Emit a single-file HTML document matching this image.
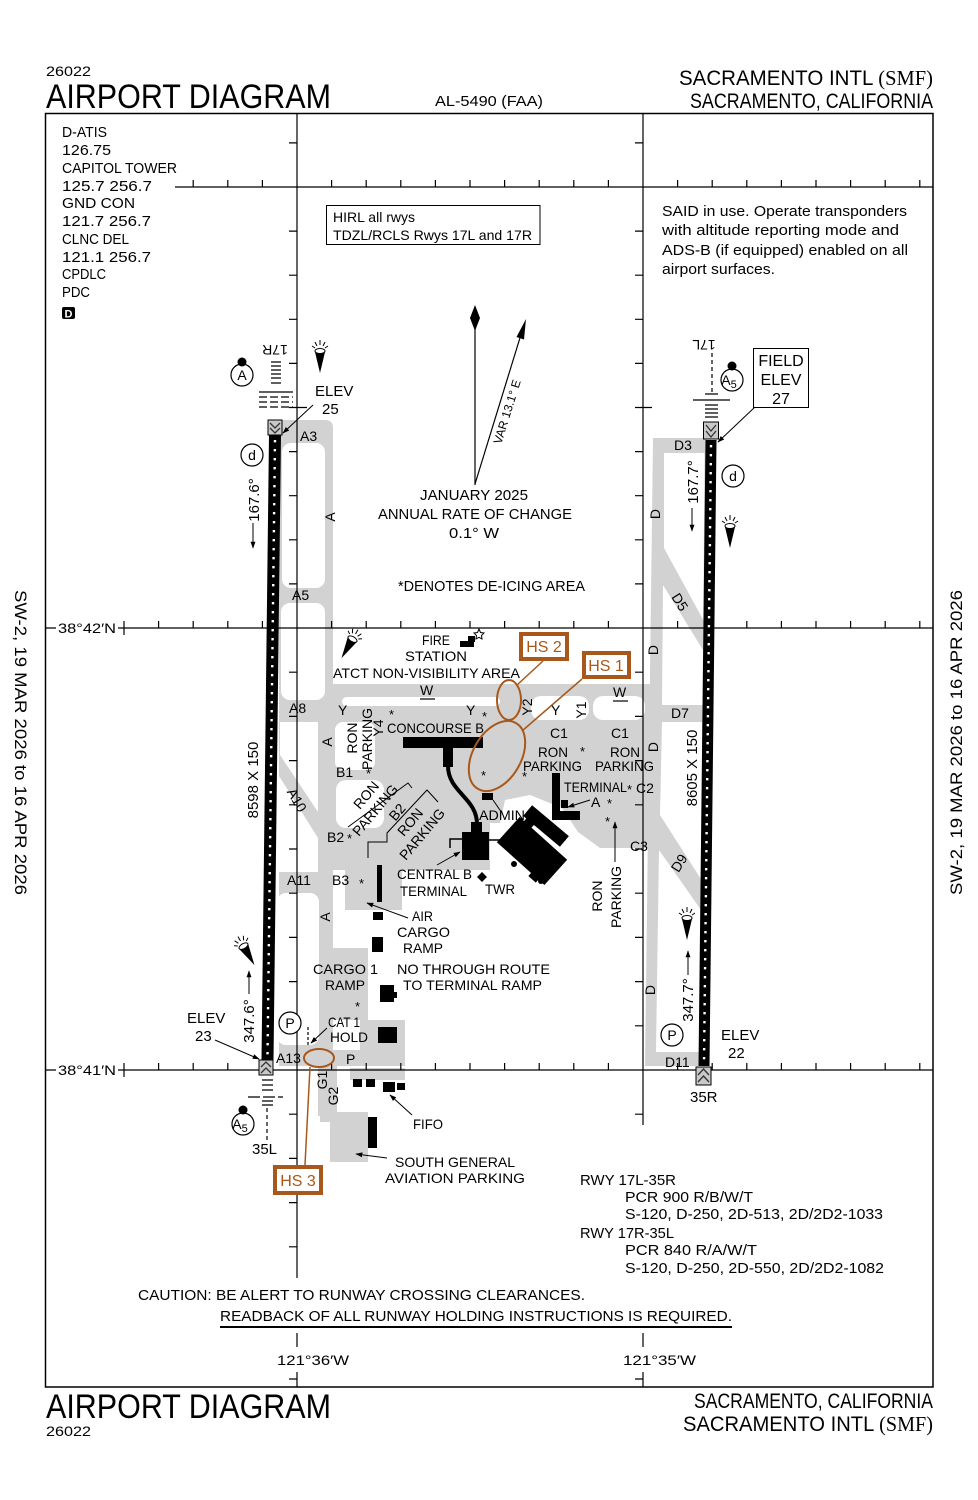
<!DOCTYPE html>
<html><head><meta charset="utf-8">
<style>
html,body{margin:0;padding:0;background:#fff;width:978px;height:1500px;overflow:hidden}
svg{display:block}
text{font-family:"Liberation Sans",Arial,sans-serif;fill:#000}
.s16{font-size:16px}.s15{font-size:15px}.s14{font-size:14px}.s13{font-size:13px}.s12{font-size:12px}
.o{fill:#a8581a}
</style></head><body>
<svg xmlns="http://www.w3.org/2000/svg" width="978" height="1500" viewBox="0 0 978 1500">
<defs>
<marker id="ah" viewBox="0 0 10 10" refX="9" refY="5" markerWidth="7" markerHeight="7" orient="auto" markerUnits="userSpaceOnUse"><path d="M0,1.5 L10,5 L0,8.5 Z" fill="#000"/></marker>
</defs>
<rect width="978" height="1500" fill="#fff"/>

<!-- ===== GRAY PAVEMENT ===== -->
<g fill="#d2d2d2">
<path d="M279,420 H325 Q333,420 333,428 V1066 H279 Z"/>
<rect x="325" y="684" width="381" height="38"/>
<path d="M333,717 H652 V848 H600 L578,832 L562,808 L530,795 L505,800 L500,823 L490,823 L490,870 L402,870 L402,910 L345,910 L345,870 L333,870 Z"/>
<path d="M653,438 H706 L699,1066 H645 Z"/>
<rect x="318" y="948" width="50" height="72"/>
<rect x="360" y="1020" width="45" height="46"/>
<rect x="300" y="1050" width="105" height="16"/>
<rect x="318" y="1066" width="19" height="50"/>
<path d="M320,1112 H368 V1162 H330 V1122 H320 Z"/>
<rect x="350" y="1068" width="55" height="12"/>
</g>
<g fill="#fff">
<rect x="282" y="443" width="43" height="145" rx="9"/>
<rect x="281" y="603" width="44" height="97" rx="9"/>
<path d="M280,722 H318 V812 L280,755 Z"/>
<path d="M279,776 L318,838 V872 H279 Z"/>
<rect x="277" y="893" width="42" height="152" rx="9"/>
<rect x="335" y="722" width="40" height="48" rx="8"/>
<rect x="336" y="780" width="48" height="48" rx="10"/>
<rect x="342" y="697" width="158" height="9" rx="4.5"/>
<rect x="531" y="696" width="58" height="24" rx="10"/>
<rect x="593" y="696" width="52" height="24" rx="10"/>
<polygon points="664,453 704.5,453 703.3,620 664,548"/>
<polygon points="663,585 703,650 702.5,705 662,705"/>
<polygon points="662,722 702.3,722 701.5,880 660,815"/>
<polygon points="659,850 701,910 699.3,1052 656,1052"/>
</g>

<!-- ===== FRAME & GRID ===== -->
<rect x="45.5" y="113.5" width="887.5" height="1273.5" fill="none" stroke="#000" stroke-width="1.5"/>
<g stroke="#000" stroke-width="1.2" fill="none">
<path d="M297,113 V1278 M297,1333 V1347 M297,1372 V1387 M643,113 V1125 M643,1333 V1347 M643,1372 V1387"/>
<path d="M175,187 H933 M46,628 H56 M118,628 H933 M46,1070 H56 M118,1070 H933"/>
<path d="M289,142.9H297M289,231.1H297M289,275.2H297M289,319.3H297M289,363.4H297M289,407.5H307M289,451.6H297M289,495.7H297M289,539.8H297M289,583.9H297M289,672.2H297M289,716.4H297M289,760.6H297M289,804.8H297M289,849H297M289,893.2H297M289,937.4H297M289,981.6H297M289,1025.8H297M289,1114.2H297M289,1158.4H297M289,1202.6H297M289,1246.8H297M289,1379H297"/>
<path d="M635,142.9H643M635,231.1H643M635,275.2H643M635,319.3H643M635,363.4H643M635,407.5H652M635,451.6H643M635,495.7H643M635,539.8H643M635,583.9H643M635,672.2H643M635,716.4H643M635,760.6H643M635,804.8H643M635,849H643M635,893.2H643M635,937.4H643M635,981.6H643M635,1025.8H643M635,1114.2H643M635,1379H643"/>
<path d="M193.2,187V180M227.8,187V180M262.4,187V180M331.6,187V180M366.2,187V180M400.8,187V180M435.4,187V180M470,187V180M504.6,187V180M539.2,187V180M573.8,187V180M608.4,187V180M677.6,187V180M712.2,187V180M746.8,187V180M781.4,187V180M816,187V180M850.6,187V180M885.2,187V180M919.8,187V180"/>
<path d="M124,621V635M158.6,628V621M193.2,628V621M227.8,628V621M262.4,628V621M331.6,628V621M366.2,628V621M400.8,628V621M435.4,628V621M470,628V621M504.6,628V621M539.2,628V621M573.8,628V621M608.4,628V621M677.6,628V621M712.2,628V621M746.8,628V621M781.4,628V621M816,628V621M850.6,628V621M885.2,628V621M919.8,628V621"/>
<path d="M124,1063V1077M158.6,1070V1063M193.2,1070V1063M227.8,1070V1063M262.4,1070V1063M331.6,1070V1063M366.2,1070V1063M400.8,1070V1063M435.4,1070V1063M470,1070V1063M504.6,1070V1063M539.2,1070V1063M573.8,1070V1063M608.4,1070V1063M677.6,1070V1063M712.2,1070V1063M746.8,1070V1063M781.4,1070V1063M816,1070V1063M850.6,1070V1063M885.2,1070V1063M919.8,1070V1063"/>
</g>

<!-- ===== RUNWAYS ===== -->
<polygon points="269,435 281,435 273.5,1060 261.5,1060" fill="#000"/>
<path d="M275,440 L267.5,1056" stroke="#fff" stroke-width="2.4" stroke-dasharray="2.4 6.6" fill="none"/>
<polygon points="705.5,440 716.5,440 709.5,1066 698.5,1066" fill="#000"/>
<path d="M711,445 L704,1062" stroke="#fff" stroke-width="2.4" stroke-dasharray="2.4 6.6" fill="none"/>
<!-- thresholds -->
<g stroke="#000" stroke-width="1">
<rect x="268" y="420" width="14" height="15" fill="#c8c8c8"/>
<rect x="259" y="1060" width="14" height="15" fill="#c8c8c8"/>
<rect x="703.5" y="422" width="15" height="17" fill="#c8c8c8"/>
<rect x="696" y="1067" width="15" height="18" fill="#c8c8c8"/>
</g>
<g stroke="#333" stroke-width="1.3" fill="none">
<path d="M270,423 L275,428 L280,423 M270,428 L275,433 L280,428"/>
<path d="M261,1067 L266,1062 L271,1067 M261,1073 L266,1068 L271,1073"/>
<path d="M706,425 L711,431 L716,425 M706,431 L711,437 L716,431"/>
<path d="M698,1075 L703.5,1069 L709,1075 M698,1082 L703.5,1076 L709,1082"/>
</g>
<!-- approach lights -->
<g stroke="#000" stroke-width="1.2" fill="none">
<path d="M271,362H281M271,366H281M271,370H281M271,374H281M271,378H281M271,383H281"/>
<path d="M259,392H293"/>
<path d="M259,397H293M259,402H293M259,407H293" stroke-dasharray="8 3"/>
<path d="M712,353 V392" stroke-dasharray="4 3"/>
<path d="M693,400 H730"/>
<path d="M705,394H718M705,405H718M705,409H718M705,413H718M705,417H718"/>
<path d="M262,1080H273M262,1085H273M262,1090H273M262,1101H273M262,1105H273"/>
<path d="M248,1097H283" stroke-dasharray="12 3"/>
<path d="M267,1108 V1140" stroke-dasharray="4 3"/>
</g>

<!-- ===== BUILDINGS ===== -->
<g fill="#000">
<rect x="403" y="737" width="80" height="11"/>
<rect x="443" y="748" width="10" height="19"/>
<rect x="471" y="822" width="11" height="11"/>
<rect x="462" y="832" width="27" height="28"/>
<g transform="translate(532,851) rotate(42)"><rect x="-32" y="-17" width="64" height="34"/><rect x="-26" y="-22" width="10" height="6"/><rect x="14" y="15" width="10" height="6"/></g>
<circle cx="514" cy="864" r="3"/><circle cx="541" cy="881" r="3"/>
<g transform="translate(546,826) rotate(40)"><rect x="-24" y="-7" width="48" height="14"/></g>
<rect x="552" y="773" width="8" height="42"/>
<rect x="552" y="811" width="28" height="9"/>
<rect x="561" y="800" width="7" height="8"/>
<rect x="482" y="793" width="11" height="7"/>
<path d="M482,872 L487,877 L482,882 L477,877 Z"/>
<rect x="460" y="641" width="14" height="6"/><rect x="468" y="636" width="7" height="6"/>
<rect x="377" y="865" width="5" height="37"/>
<rect x="373" y="912" width="10" height="8"/>
<rect x="372" y="937" width="11" height="15"/>
<rect x="380" y="985" width="14" height="17"/><rect x="392" y="992" width="5" height="6"/>
<rect x="378" y="1027" width="19" height="16"/>
<rect x="353" y="1079" width="9" height="8"/><rect x="366" y="1079" width="9" height="8"/>
<rect x="383" y="1082" width="12" height="10"/><rect x="397" y="1083" width="8" height="7"/>
<rect x="368" y="1117" width="9" height="31"/>
</g>
<path d="M479,629 L480.5,632.5 L484,633 L481.5,635.5 L482,639 L479,637.3 L476,639 L476.5,635.5 L474,633 L477.5,632.5 Z" fill="#fff" stroke="#000" stroke-width="1"/>
<g stroke="#000" fill="none">
<path d="M448,766 C448,792 477,798 477,824" stroke-width="4"/>
<polyline points="450,848 450,839 462,839" stroke-width="1.5"/>
<line x1="489" y1="840" x2="508" y2="840" stroke-width="1.5"/>
<polyline points="348,827 408,783 412,788" stroke-width="1"/>
<polyline points="368,858 368,842 387,842 387,833 427,790 438,802" stroke-width="1"/>
<line x1="308" y1="1027" x2="308" y2="1046" stroke-width="1.2" stroke-dasharray="3 2"/>
</g>

<!-- ===== LEADERS / ARROWS ===== -->
<g stroke="#000" stroke-width="1" fill="none" marker-end="url(#ah)">
<line x1="313" y1="405" x2="283" y2="433"/>
<line x1="755" y1="407" x2="718" y2="442"/>
<line x1="215" y1="1040" x2="259" y2="1059"/>
<line x1="437" y1="865" x2="460" y2="852"/>
<line x1="408" y1="918" x2="367" y2="903"/>
<line x1="327" y1="1028" x2="311" y2="1043"/>
<line x1="590" y1="800" x2="568" y2="807"/>
<line x1="615" y1="862" x2="615" y2="822"/>
<line x1="412" y1="1115" x2="390" y2="1095"/>
<line x1="387" y1="1158" x2="356" y2="1154"/>
<line x1="253" y1="523" x2="253" y2="548"/>
<line x1="692" y1="508" x2="692" y2="531"/>
<line x1="249" y1="994" x2="249" y2="971"/>
<line x1="688" y1="975" x2="688" y2="951"/>
</g>
<line x1="502" y1="813" x2="493" y2="800" stroke="#000" stroke-width="1"/>

<!-- north arrow -->
<line x1="475" y1="318" x2="475" y2="485" stroke="#000" stroke-width="1.2"/>
<path d="M475,305 L480,318 L475,331 L470,318 Z"/>
<line x1="475" y1="484" x2="523" y2="328" stroke="#000" stroke-width="1.2"/>
<path d="M526,319 L524,339.5 L516.5,337 Z"/>
<text class="s12" text-anchor="middle" transform="translate(511,413) rotate(-72.7)">VAR 13.1°  E</text>

<!-- light icons -->
<g transform="translate(320,352)"><path d="M-5,0 L5,0 L0,21 Z"/><ellipse cx="0" cy="-1" rx="5" ry="2.5" fill="#fff" stroke="#000"/><path d="M-8,-6 L-5,-4 M-5,-10 L-3,-6 M0,-12 V-7 M5,-10 L3,-6 M8,-6 L5,-4" stroke="#000" fill="none"/></g>
<g transform="translate(730,527)"><path d="M-5,0 L5,0 L0,21 Z"/><ellipse cx="0" cy="-1" rx="5" ry="2.5" fill="#fff" stroke="#000"/><path d="M-8,-6 L-5,-4 M-5,-10 L-3,-6 M0,-12 V-7 M5,-10 L3,-6 M8,-6 L5,-4" stroke="#000" fill="none"/></g>
<g transform="translate(687,919)"><path d="M-5,0 L5,0 L0,21 Z"/><ellipse cx="0" cy="-1" rx="5" ry="2.5" fill="#fff" stroke="#000"/><path d="M-8,-6 L-5,-4 M-5,-10 L-3,-6 M0,-12 V-7 M5,-10 L3,-6 M8,-6 L5,-4" stroke="#000" fill="none"/></g>
<g transform="translate(352,640) rotate(30)"><path d="M-5,0 L5,0 L0,21 Z"/><ellipse cx="0" cy="-1" rx="5" ry="2.5" fill="#fff" stroke="#000"/><path d="M-8,-6 L-5,-4 M-5,-10 L-3,-6 M0,-12 V-7 M5,-10 L3,-6 M8,-6 L5,-4" stroke="#000" fill="none"/></g>
<g transform="translate(244,947) rotate(-30)"><path d="M-5,0 L5,0 L0,21 Z"/><ellipse cx="0" cy="-1" rx="5" ry="2.5" fill="#fff" stroke="#000"/><path d="M-8,-6 L-5,-4 M-5,-10 L-3,-6 M0,-12 V-7 M5,-10 L3,-6 M8,-6 L5,-4" stroke="#000" fill="none"/></g>

<!-- circles -->
<g fill="#fff" stroke="#000" stroke-width="1.2">
<circle cx="242" cy="375" r="11"/><circle cx="732" cy="380" r="11"/><circle cx="243" cy="1124" r="11"/>
<circle cx="252" cy="455" r="11"/><circle cx="733" cy="476" r="11"/>
<circle cx="290" cy="1023" r="11"/><circle cx="672" cy="1035" r="11"/>
</g>
<circle cx="242" cy="362" r="4.5"/><circle cx="732" cy="366" r="4.5"/><circle cx="243" cy="1110" r="4.5"/>
<text class="s14" x="242" y="380" text-anchor="middle">A</text>
<text class="s14" x="729" y="385" text-anchor="middle">A<tspan font-size="11" dy="3">5</tspan></text>
<text class="s14" x="240" y="1129" text-anchor="middle">A<tspan font-size="11" dy="3">5</tspan></text>
<text class="s14" x="252" y="460" text-anchor="middle">d</text>
<text class="s14" x="733" y="481" text-anchor="middle">d</text>
<text class="s14" x="290" y="1028" text-anchor="middle">P</text>
<text class="s14" x="672" y="1040" text-anchor="middle">P</text>

<!-- ===== HOT SPOTS ===== -->
<g stroke="#a8581a" fill="none">
<line x1="543" y1="661" x2="517" y2="685" stroke-width="1.5"/>
<line x1="582" y1="679" x2="522" y2="731" stroke-width="1.5"/>
<line x1="310" y1="1067" x2="305" y2="1165" stroke-width="1.5"/>
<ellipse cx="509" cy="700" rx="12" ry="20" stroke-width="2"/>
<ellipse cx="497" cy="756" rx="38" ry="24" transform="rotate(-60 497 756)" stroke-width="2"/>
<ellipse cx="319" cy="1058" rx="15" ry="9" stroke-width="2"/>
<rect x="521" y="634" width="46" height="25" fill="#fff" stroke-width="4"/>
<rect x="584" y="653" width="45" height="24" fill="#fff" stroke-width="4"/>
<rect x="275" y="1167" width="46" height="26" fill="#fff" stroke-width="4"/>
</g>
<text class="s16 o" x="544" y="652" text-anchor="middle">HS 2</text>
<text class="s16 o" x="606" y="671" text-anchor="middle">HS 1</text>
<text class="s16 o" x="298" y="1186" text-anchor="middle">HS 3</text>

<!-- ===== HEADER / FOOTER ===== -->
<text class="s14" x="46" y="76" textLength="45" lengthAdjust="spacingAndGlyphs">26022</text>
<text x="46" y="108" font-size="34" textLength="285" lengthAdjust="spacingAndGlyphs">AIRPORT DIAGRAM</text>
<text class="s15" x="435" y="106" textLength="108" lengthAdjust="spacingAndGlyphs">AL-5490 (FAA)</text>
<text x="679" y="85" font-size="21" textLength="254" lengthAdjust="spacingAndGlyphs">SACRAMENTO INTL <tspan font-family="Liberation Serif">(SMF)</tspan></text>
<text x="690" y="108" font-size="21" textLength="243" lengthAdjust="spacingAndGlyphs">SACRAMENTO, CALIFORNIA</text>

<text x="46" y="1418" font-size="34" textLength="285" lengthAdjust="spacingAndGlyphs">AIRPORT DIAGRAM</text>
<text class="s14" x="46" y="1436" textLength="45" lengthAdjust="spacingAndGlyphs">26022</text>
<text x="694" y="1408" font-size="21" textLength="239" lengthAdjust="spacingAndGlyphs">SACRAMENTO, CALIFORNIA</text>
<text x="683" y="1431" font-size="21" textLength="250" lengthAdjust="spacingAndGlyphs">SACRAMENTO INTL <tspan font-family="Liberation Serif">(SMF)</tspan></text>

<text font-size="17" transform="translate(15,590) rotate(90)" textLength="305" lengthAdjust="spacingAndGlyphs">SW-2,  19 MAR 2026  to  16 APR 2026</text>
<text font-size="17" transform="translate(962,895) rotate(-90)" textLength="305" lengthAdjust="spacingAndGlyphs">SW-2,  19 MAR 2026  to  16 APR 2026</text>

<!-- left info -->
<g class="s15">
<text x="62" y="137" textLength="45" lengthAdjust="spacingAndGlyphs">D-ATIS</text>
<text x="62" y="155" textLength="49" lengthAdjust="spacingAndGlyphs">126.75</text>
<text x="62" y="173" textLength="115" lengthAdjust="spacingAndGlyphs">CAPITOL TOWER</text>
<text x="62" y="191" textLength="90" lengthAdjust="spacingAndGlyphs">125.7  256.7</text>
<text x="62" y="208" textLength="73" lengthAdjust="spacingAndGlyphs">GND CON</text>
<text x="62" y="226" textLength="89" lengthAdjust="spacingAndGlyphs">121.7  256.7</text>
<text x="62" y="244" textLength="67" lengthAdjust="spacingAndGlyphs">CLNC DEL</text>
<text x="62" y="262" textLength="89" lengthAdjust="spacingAndGlyphs">121.1  256.7</text>
<text x="62" y="279" textLength="44" lengthAdjust="spacingAndGlyphs">CPDLC</text>
<text x="62" y="297" textLength="28" lengthAdjust="spacingAndGlyphs">PDC</text>
</g>
<rect x="62" y="307" width="13" height="12" rx="2"/>
<text x="68.5" y="317.5" font-size="11" font-weight="bold" text-anchor="middle" style="fill:#fff">D</text>

<rect x="326.5" y="205.5" width="213.5" height="39" fill="none" stroke="#000" stroke-width="1"/>
<text class="s14" x="333" y="222" textLength="82" lengthAdjust="spacingAndGlyphs">HIRL all rwys</text>
<text class="s14" x="333" y="240" textLength="199" lengthAdjust="spacingAndGlyphs">TDZL/RCLS Rwys 17L and 17R</text>

<g class="s15">
<text x="662" y="216" textLength="245" lengthAdjust="spacingAndGlyphs">SAID in use. Operate transponders</text>
<text x="662" y="235" textLength="237" lengthAdjust="spacingAndGlyphs">with altitude reporting mode and</text>
<text x="662" y="255" textLength="246" lengthAdjust="spacingAndGlyphs">ADS-B (if equipped) enabled on all</text>
<text x="662" y="274" textLength="113" lengthAdjust="spacingAndGlyphs">airport surfaces.</text>
</g>

<rect x="753.5" y="348.5" width="55" height="59" fill="#fff" stroke="#000" stroke-width="1"/>
<text class="s16" x="781" y="366" text-anchor="middle">FIELD</text>
<text class="s16" x="781" y="385" text-anchor="middle">ELEV</text>
<text class="s16" x="781" y="404" text-anchor="middle">27</text>

<g class="s15">
<text x="420" y="500" textLength="108" lengthAdjust="spacingAndGlyphs">JANUARY 2025</text>
<text x="378" y="519" textLength="194" lengthAdjust="spacingAndGlyphs">ANNUAL RATE OF CHANGE</text>
<text x="449" y="538" textLength="50" lengthAdjust="spacingAndGlyphs">0.1° W</text>
<text x="398" y="591" textLength="187" lengthAdjust="spacingAndGlyphs">*DENOTES DE-ICING AREA</text>
</g>

<!-- lat/long labels -->
<text class="s14" x="58" y="633" textLength="58" lengthAdjust="spacingAndGlyphs">38°42′N</text>
<text class="s14" x="58" y="1075" textLength="58" lengthAdjust="spacingAndGlyphs">38°41′N</text>
<text class="s14" x="277" y="1365" textLength="72" lengthAdjust="spacingAndGlyphs">121°36′W</text>
<text class="s14" x="623" y="1365" textLength="73" lengthAdjust="spacingAndGlyphs">121°35′W</text>

<!-- runway labels -->
<text class="s14" text-anchor="middle" transform="translate(275,345) rotate(180)">17R</text>
<text class="s14" text-anchor="middle" transform="translate(704,340) rotate(180)">17L</text>
<text class="s15" x="315" y="396">ELEV</text>
<text class="s15" x="322" y="414">25</text>
<text class="s15" x="187" y="1023">ELEV</text>
<text class="s15" x="195" y="1041">23</text>
<text class="s15" x="721" y="1040">ELEV</text>
<text class="s15" x="728" y="1058">22</text>
<text class="s15" x="252" y="1154">35L</text>
<text class="s15" x="690" y="1102">35R</text>
<g class="s15" text-anchor="middle">
<text transform="translate(254,500) rotate(-90)" dy="5">167.6°</text>
<text transform="translate(693,482) rotate(-90)" dy="5">167.7°</text>
<text transform="translate(249,1021) rotate(-90)" dy="5">347.6°</text>
<text transform="translate(688,1000) rotate(-90)" dy="5">347.7°</text>
<text transform="translate(253,780) rotate(-90)" dy="5">8598 X 150</text>
<text transform="translate(692,768) rotate(-90)" dy="5">8605 X 150</text>
</g>

<!-- taxiway labels -->
<g class="s14">
<text x="300" y="441">A3</text>
<text x="292" y="600">A5</text>
<text x="289" y="713">A8</text>
<text x="287" y="885">A11</text>
<text x="332" y="885">B3</text>
<text x="276" y="1063">A13</text>
<text x="336" y="777">B1</text>
<text x="327" y="842">B2</text>
<text x="338" y="715">Y</text>
<text x="466" y="715">Y</text>
<text x="551" y="715">Y</text>
<text x="420" y="695">W</text>
<text x="613" y="697">W</text>
<text x="674" y="450">D3</text>
<text x="671" y="718">D7</text>
<text x="665" y="1067">D11</text>
<text x="550" y="738">C1</text>
<text x="611" y="738">C1</text>
<text x="636" y="793">C2</text>
<text x="630" y="851">C3</text>
<text x="346" y="1064">P</text>
</g>
<g stroke="#000" stroke-width="1.2"><line x1="420" y1="699" x2="435" y2="699"/><line x1="613" y1="701" x2="628" y2="701"/></g>
<g class="s14" text-anchor="middle">
<text transform="translate(330,517) rotate(-90)" dy="5">A</text>
<text transform="translate(327,742) rotate(-90)" dy="5">A</text>
<text transform="translate(325,917) rotate(-90)" dy="5">A</text>
<text transform="translate(297,800) rotate(60)" dy="5">A10</text>
<text transform="translate(527,707) rotate(-90)" dy="5">Y2</text>
<text transform="translate(581,710) rotate(-90)" dy="5">Y1</text>
<text transform="translate(378,728) rotate(-90)" dy="5">Y4</text>
<text transform="translate(655,514) rotate(-90)" dy="5">D</text>
<text transform="translate(653,650) rotate(-90)" dy="5">D</text>
<text transform="translate(653,747) rotate(-90)" dy="5">D</text>
<text transform="translate(650,990) rotate(-90)" dy="5">D</text>
<text transform="translate(680,602) rotate(58)" dy="5">D5</text>
<text transform="translate(679,863) rotate(-58)" dy="5">D9</text>
<text transform="translate(322,1080) rotate(-90)" dy="5">G1</text>
<text transform="translate(333,1096) rotate(-90)" dy="5">G2</text>
<text transform="translate(352,738) rotate(-90)" dy="5">RON</text>
<text transform="translate(367,739) rotate(-90)" dy="5">PARKING</text>
<text transform="translate(366,795) rotate(-50)" dy="5">RON</text>
<text transform="translate(375,810) rotate(-50)" dy="5">PARKING</text>
<text transform="translate(397,812) rotate(-50)" dy="5">B2</text>
<text transform="translate(410,822) rotate(-50)" dy="5">RON</text>
<text transform="translate(422,834) rotate(-50)" dy="5">PARKING</text>
<text transform="translate(597,896) rotate(-90)" dy="5">RON</text>
<text transform="translate(616,897) rotate(-90)" dy="5">PARKING</text>
</g>
<!-- de-icing stars -->
<g class="s13">
<text x="359" y="888">*</text><text x="389" y="719">*</text><text x="482" y="721">*</text>
<text x="366" y="778">*</text><text x="481" y="780">*</text><text x="522" y="781">*</text>
<text x="347" y="843">*</text><text x="580" y="756">*</text><text x="627" y="794">*</text>
<text x="607" y="808">*</text><text x="605" y="826">*</text><text x="355" y="1011">*</text>
</g>

<!-- area labels -->
<g class="s14">
<text x="422" y="645" textLength="28" lengthAdjust="spacingAndGlyphs">FIRE</text>
<text x="405" y="661" textLength="62" lengthAdjust="spacingAndGlyphs">STATION</text>
<text x="333" y="678" textLength="187" lengthAdjust="spacingAndGlyphs">ATCT NON-VISIBILITY AREA</text>
<text x="387" y="733" textLength="97" lengthAdjust="spacingAndGlyphs">CONCOURSE B</text>
<text x="538" y="757" textLength="30" lengthAdjust="spacingAndGlyphs">RON</text>
<text x="523" y="771" textLength="59" lengthAdjust="spacingAndGlyphs">PARKING</text>
<text x="610" y="757" textLength="30" lengthAdjust="spacingAndGlyphs">RON</text>
<text x="595" y="771" textLength="59" lengthAdjust="spacingAndGlyphs">PARKING</text>
<text x="564" y="792" textLength="63" lengthAdjust="spacingAndGlyphs">TERMINAL</text>
<text x="591" y="807">A</text>
<text x="479" y="820" textLength="46" lengthAdjust="spacingAndGlyphs">ADMIN</text>
<text x="397" y="879" textLength="75" lengthAdjust="spacingAndGlyphs">CENTRAL B</text>
<text x="400" y="896" textLength="67" lengthAdjust="spacingAndGlyphs">TERMINAL</text>
<text x="485" y="894" textLength="30" lengthAdjust="spacingAndGlyphs">TWR</text>
<text x="412" y="921" textLength="21" lengthAdjust="spacingAndGlyphs">AIR</text>
<text x="397" y="937" textLength="53" lengthAdjust="spacingAndGlyphs">CARGO</text>
<text x="403" y="953" textLength="40" lengthAdjust="spacingAndGlyphs">RAMP</text>
<text x="313" y="974" textLength="65" lengthAdjust="spacingAndGlyphs">CARGO 1</text>
<text x="325" y="990" textLength="40" lengthAdjust="spacingAndGlyphs">RAMP</text>
<text x="397" y="974" textLength="153" lengthAdjust="spacingAndGlyphs">NO THROUGH ROUTE</text>
<text x="403" y="990" textLength="139" lengthAdjust="spacingAndGlyphs">TO TERMINAL RAMP</text>
<text x="328" y="1027" textLength="32" lengthAdjust="spacingAndGlyphs">CAT 1</text>
<text x="330" y="1042" textLength="38" lengthAdjust="spacingAndGlyphs">HOLD</text>
<text x="413" y="1129" textLength="30" lengthAdjust="spacingAndGlyphs">FIFO</text>
<text x="395" y="1167" textLength="120" lengthAdjust="spacingAndGlyphs">SOUTH GENERAL</text>
<text x="385" y="1183" textLength="140" lengthAdjust="spacingAndGlyphs">AVIATION PARKING</text>
</g>

<!-- runway data -->
<g class="s15">
<text x="580" y="1185" textLength="96" lengthAdjust="spacingAndGlyphs">RWY 17L-35R</text>
<text x="625" y="1202" textLength="128" lengthAdjust="spacingAndGlyphs">PCR 900 R/B/W/T</text>
<text x="625" y="1219" textLength="258" lengthAdjust="spacingAndGlyphs">S-120, D-250, 2D-513, 2D/2D2-1033</text>
<text x="580" y="1238" textLength="94" lengthAdjust="spacingAndGlyphs">RWY 17R-35L</text>
<text x="625" y="1255" textLength="132" lengthAdjust="spacingAndGlyphs">PCR 840 R/A/W/T</text>
<text x="625" y="1273" textLength="259" lengthAdjust="spacingAndGlyphs">S-120, D-250, 2D-550, 2D/2D2-1082</text>
<text x="138" y="1300" textLength="447" lengthAdjust="spacingAndGlyphs">CAUTION: BE ALERT TO RUNWAY CROSSING CLEARANCES.</text>
<text x="220" y="1321" textLength="512" lengthAdjust="spacingAndGlyphs">READBACK OF ALL RUNWAY HOLDING INSTRUCTIONS IS REQUIRED.</text>
</g>
<line x1="220" y1="1327" x2="732" y2="1327" stroke="#000" stroke-width="2"/>
</svg>
</body></html>
